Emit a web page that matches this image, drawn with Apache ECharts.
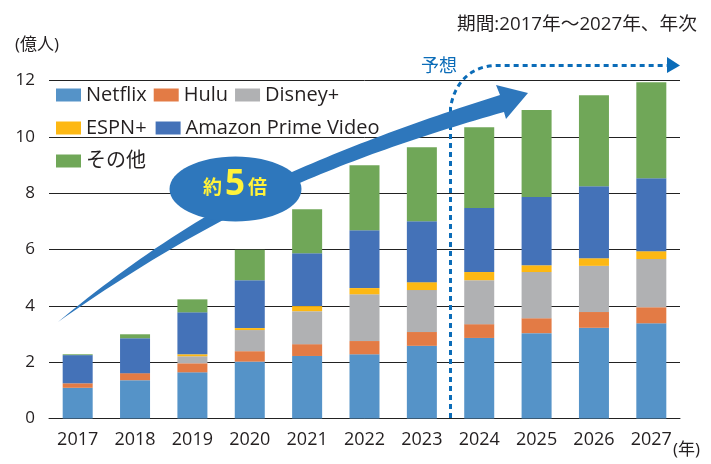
<!DOCTYPE html>
<html lang="ja">
<head>
<meta charset="utf-8">
<title>動画配信サービス加入者数</title>
<script src="https://cdn.jsdelivr.net/npm/echarts@6/dist/echarts.min.js"></script>
<style>
    html,body{margin:0;padding:0;background:#fff;}
    #chart{width:711px;height:464px;}
</style>
</head>
<body>
<div id="chart"></div>
<script>
var years=['2017','2018','2019','2020','2021','2022','2023','2024','2025','2026','2027'];
var netflix=[1.09,1.36,1.64,2.02,2.22,2.28,2.58,2.86,3.03,3.22,3.38];
var hulu=[0.16,0.25,0.32,0.37,0.42,0.47,0.49,0.49,0.53,0.56,0.57];
var disney=[0,0,0.25,0.75,1.17,1.66,1.49,1.56,1.64,1.64,1.71];
var espn=[0,0,0.07,0.07,0.18,0.22,0.28,0.29,0.24,0.27,0.28];
var amazon=[1.00,1.24,1.49,1.70,1.88,2.05,2.16,2.27,2.42,2.56,2.59];
var others=[0.03,0.14,0.46,1.08,1.56,2.31,2.63,2.87,3.09,3.23,3.41];

var FONT='"Open Sans","Noto Sans CJK JP",sans-serif';
var TEXT='#231f20';
var BLUE='#2e77bc';
var DOT='#0b6cb8';

function bar(name,values,color){
    return {name:name,type:'bar',stack:'total',data:values,barWidth:30,
        itemStyle:{color:color},z:3};
}
function legendRow(names,left,top,gap){
    return {data:names,left:left,top:top,orient:'horizontal',padding:0,itemGap:gap,
        itemWidth:25,itemHeight:13,icon:'rect',selectedMode:false,
        textStyle:{fontFamily:FONT,fontSize:20,color:TEXT}};
}
function label(text,x,y,size,color,weight){
    return {type:'text',left:x,top:y,z:20,style:{text:text,fontFamily:FONT,fontSize:size,
        fill:color||TEXT,fontWeight:weight||'normal'}};
}
// 注釈用: 3次ベジェを折れ線の点にする
function curve(p0,p1,p2,p3){
    var pts=[];
    for(var i=0;i<=30;i++){
        var t=i/30,u=1-t;
        pts.push([
            u*u*u*p0[0]+3*u*u*t*p1[0]+3*u*t*t*p2[0]+t*t*t*p3[0],
            u*u*u*p0[1]+3*u*u*t*p1[1]+3*u*t*t*p2[1]+t*t*t*p3[1]
        ]);
    }
    return pts;
}

var dotted=[[450.5,418]].concat(curve([450.5,108],[454,84],[470,65.5],[497,65.5]),[[667,65.5]]);
var arrow=[].concat(
    curve([58,322],[130,262],[210,208],[292,172]),
    curve([292,172],[360,142],[430,117],[500,95]),
    [[496,85],[528,93],[506,119]],
    curve([504,112],[430,133],[365,155],[302,182]),
    curve([302,182],[215,220],[135,268],[58,322])
);

var myChart=echarts.init(document.getElementById('chart'),null,{renderer:'canvas'});
var option={
    animation:false,
    backgroundColor:'#fff',
    grid:{left:49,right:31,top:80.5,bottom:45.5,containLabel:false},
    legend:[
        legendRow(['Netflix','Hulu','Disney+'],56,85,7),
        legendRow(['ESPN+','Amazon Prime Video'],56,118,9),
        legendRow(['その他'],56,151,6)
    ],
    xAxis:{type:'category',data:years,
        axisLine:{lineStyle:{color:'#222',width:1}},
        axisTick:{show:false},
        axisLabel:{fontFamily:FONT,fontSize:18,color:TEXT,margin:12}},
    yAxis:{type:'value',min:0,max:12,interval:2,
        axisLine:{show:false},axisTick:{show:false},
        splitLine:{lineStyle:{color:'#222',width:1}},
        axisLabel:{fontFamily:FONT,fontSize:17,color:TEXT,margin:14}},
    series:[
        bar('Netflix',netflix,'#5593c8'),
        bar('Hulu',hulu,'#e37b45'),
        bar('Disney+',disney,'#b0b1b3'),
        bar('ESPN+',espn,'#fdb813'),
        bar('Amazon Prime Video',amazon,'#4472b8'),
        bar('その他',others,'#70a758')
    ],
    graphic:[
        {type:'polyline',z:10,shape:{points:dotted},
            style:{fill:null,stroke:DOT,lineWidth:3,lineDash:[5,4]}},
        {type:'polygon',z:10,shape:{points:[[667,57],[680,65.5],[667,73]]},style:{fill:DOT}},
        {type:'polygon',z:11,shape:{points:arrow},style:{fill:BLUE}},
        {type:'ellipse',z:12,shape:{cx:235.5,cy:189,rx:66,ry:32.5},style:{fill:BLUE}},
        label('約',203,179,19,'#fff23a','bold'),
        label('5',225,168,35,'#fff23a','bold'),
        label('倍',248,179,19,'#fff23a','bold'),
        label('予想',421,58,18,DOT),
        label('期間:2017年～2027年、年次',457,15,18.7),
        label('(億人)',15,37,17),
        label('(年)',673,442,17)
    ]
};
myChart.setOption(option);
</script>
</body>
</html>
